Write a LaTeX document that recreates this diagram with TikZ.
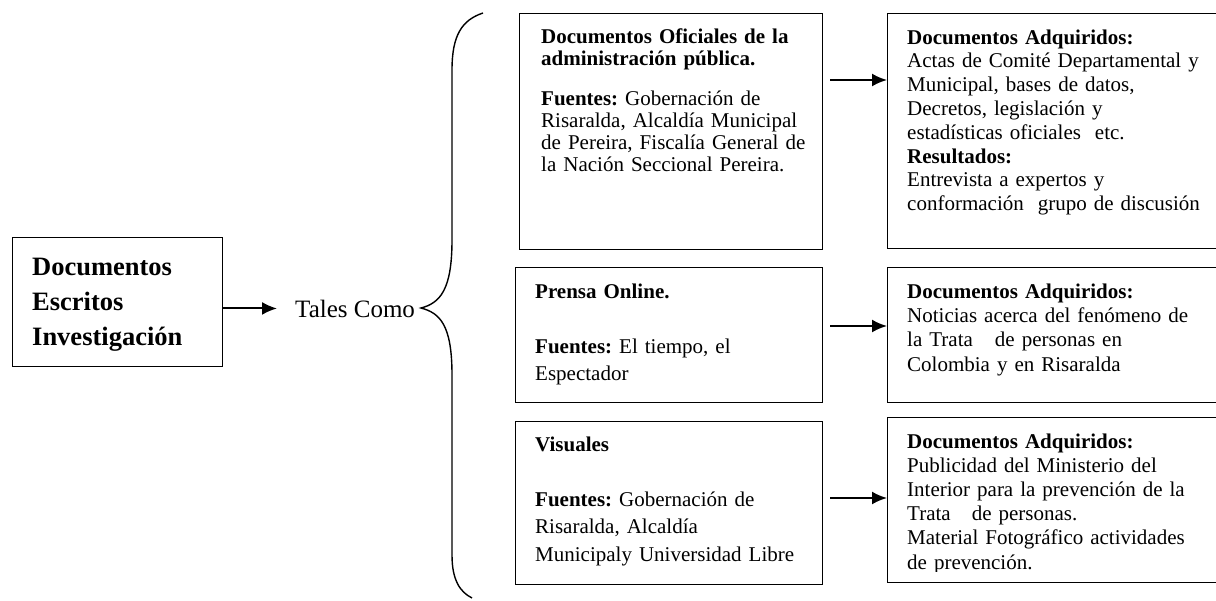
\documentclass[tikz,border=0pt]{standalone}
\usepackage{fontspec}
\setmainfont{Liberation Serif}
\usepackage{tikz}
\usetikzlibrary{arrows.meta, positioning}
\frenchspacing

\begin{document}
\begin{tikzpicture}[x=1pt, y=-1pt, >={Latex[length=15pt, width=13pt]},
    box/.style={draw, line width=1.3pt, anchor=north west, inner sep=0pt},
    txt/.style={anchor=base west, inner sep=0pt, align=left, text width=320pt},
    body/.style={font=\fontsize{21}{#1}\selectfont},
    arr/.style={->, line width=2pt}]

    \useasboundingbox (0,0) rectangle (1216,600);

    % Boxes
    \node (main) at (12,237) [box, minimum width=210pt, minimum height=129pt] {};
    \node (oficiales) at (519,13) [box, minimum width=303pt, minimum height=236pt] {};
    \node (prensa) at (515,267) [box, minimum width=307pt, minimum height=135pt] {};
    \node (visuales) at (515,421) [box, minimum width=307pt, minimum height=163pt] {};
    \node (adq1) at (887,13) [box, minimum width=340pt, minimum height=235pt] {};
    \node (adq2) at (887,267) [box, minimum width=340pt, minimum height=135pt] {};
    \node (adq3) at (887,417) [box, minimum width=340pt, minimum height=165pt] {};

    % Texts
    \node (mainText) at (32,275) [txt, text width=185pt, font=\fontsize{26.5}{35}\selectfont\bfseries]
        {Documentos\\ Escritos\\ Investigación};
    \node (tales) at (295,317) [anchor=base west, inner sep=0pt, font=\fontsize{25}{30}\selectfont] {Tales Como};

    \node (oficialesText) at (541,43) [txt, body=22]
        {\textbf{Documentos Oficiales de la}\\ \textbf{administración pública.}\\[18pt]
         \textbf{Fuentes:} Gobernación de\\ Risaralda, Alcaldía Municipal\\
         de Pereira, Fiscalía General de\\ la Nación Seccional Pereira.};
    \node (prensaText) at (535,298) [txt, body=27.5]
        {\textbf{Prensa Online.}\\[27.5pt] \textbf{Fuentes:} El tiempo, el\\ Espectador};
    \node (visualesText) at (535,451) [txt, body=27.7]
        {\textbf{Visuales}\\[27.5pt] \textbf{Fuentes:} Gobernación de\\ Risaralda, Alcaldía\\
         Municipaly Universidad Libre};

    \node (adq1Text) at (907,44) [txt, body=23.8]
        {\textbf{Documentos Adquiridos:}\\ Actas de Comité Departamental y\\
         Municipal, bases de datos,\\ Decretos, legislación y\\
         estadísticas oficiales\ \ etc.\\ \textbf{Resultados:}\\
         Entrevista a expertos y\\ conformación\ \ grupo de discusión};
    \node (adq2Text) at (907,298) [txt, body=24.4]
        {\textbf{Documentos Adquiridos:}\\ Noticias acerca del fenómeno de\\
         la Trata\hspace{22pt}de personas en\\ Colombia y en Risaralda};
    \begin{scope}
        \clip (887,417) rectangle (1216,571);
        \node (adq3Text) at (907,448) [txt, body=24.2]
            {\textbf{Documentos Adquiridos:}\\ Publicidad del Ministerio del\\
             Interior para la prevención de la\\ Trata\hspace{21pt}de personas.\\
             Material Fotográfico actividades\\ de prevención.};
    \end{scope}

    % Brace
    \coordinate (braceTop) at (483,13);
    \coordinate (braceTip) at (421,308);
    \coordinate (braceBot) at (472,598);
    \draw[line width=1.4pt] (braceTop) .. controls (462,20) and (452,35) .. (452,70)
        -- (452,240) .. controls (452,290) and (440,303) .. (braceTip)
        .. controls (440,313) and (452,325) .. (452,375)
        -- (452,555) .. controls (452,580) and (460,592) .. (braceBot);

    % Arrows
    \draw[arr, shorten >=18pt] (main.east |- tales.west) -- (tales.west);
    \draw[arr, shorten <=7pt] (oficiales.east |- 0,80) -- (adq1.west |- 0,80);
    \draw[arr, shorten <=7pt] (prensa.east |- 0,326) -- (adq2.west |- 0,326);
    \draw[arr, shorten <=7pt] (visuales.east |- 0,498) -- (adq3.west |- 0,498);

\end{tikzpicture}
\end{document}
